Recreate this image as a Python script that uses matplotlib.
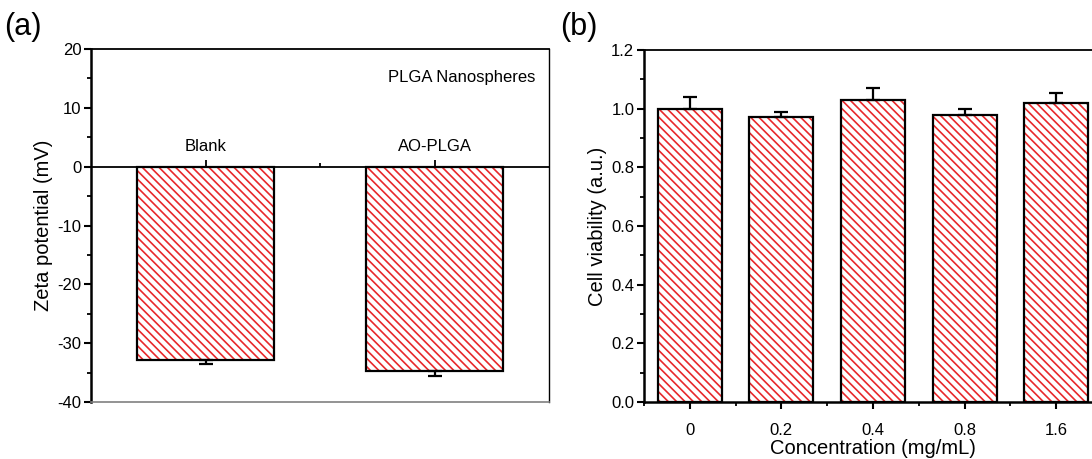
import matplotlib
matplotlib.use("Agg")
import matplotlib.pyplot as plt
from matplotlib.ticker import MultipleLocator, FixedLocator, FormatStrFormatter
import numpy as np

plt.rcParams['font.family'] = ['Liberation Sans', 'DejaVu Sans']
plt.rcParams['hatch.linewidth'] = 1.2
plt.rcParams['axes.unicode_minus'] = False

# ---- data ----
zeta_categories = ["Blank", "AO-PLGA"]
zeta_values = [-32.9, -34.7]
zeta_errors = [0.7, 0.8]

conc_labels = ["0", "0.2", "0.4", "0.8", "1.6"]
viability_values = [1.00, 0.97, 1.03, 0.98, 1.02]
viability_errors = [0.04, 0.02, 0.04, 0.02, 0.035]

RED = "#e8282b"
W, H = 1092, 459
fig = plt.figure(figsize=(W / 100, H / 100), dpi=100)

TICK_FS = 12
LABEL_FS = 14.5

def px_axes(l, t, r, b):
    return fig.add_axes([l / W, 1 - b / H, (r - l) / W, (b - t) / H])

def hatched_bars(ax, x, vals, width, errs, up):
    ax.bar(x, vals, width, color="white", edgecolor=RED, hatch="\\\\\\\\", linewidth=0, zorder=2)
    ax.bar(x, vals, width, fill=False, edgecolor="black", linewidth=1.6, zorder=3)
    zeros = np.zeros(len(vals))
    yerr = [zeros, errs] if up else [errs, zeros]
    ax.errorbar(x, vals, yerr=yerr, fmt="none", ecolor="black",
                elinewidth=1.6, capsize=5, capthick=1.6, zorder=4)

# ---- panel (a) ----
axa = px_axes(91, 49, 549, 402)
xa = np.arange(1, len(zeta_categories) + 1)
hatched_bars(axa, xa, zeta_values, 0.6, zeta_errors, up=False)
axa.set_xlim(0.5, 2.5)
axa.set_ylim(-40, 20)
axa.spines['bottom'].set_position(('data', 0))
axa.spines['bottom'].set_linewidth(1.3)
axa.spines['left'].set_linewidth(1.8)
axa.spines['top'].set_linewidth(1.3)
axa.spines['right'].set_linewidth(1.0)
axa.axhline(-40, color="#808080", lw=1.2, clip_on=False, zorder=5)
axa.xaxis.set_major_locator(FixedLocator(xa))
axa.xaxis.set_minor_locator(FixedLocator([1.5]))
axa.tick_params(axis='x', which='both', direction='in', labelbottom=False, length=5, width=1.3)
axa.tick_params(axis='x', which='minor', length=3)
for xi, name in zip(xa, zeta_categories):
    axa.annotate(name, (xi, 0), xytext=(0, 9), textcoords='offset points',
                 ha='center', va='bottom', fontsize=TICK_FS)
axa.yaxis.set_major_locator(MultipleLocator(10))
axa.yaxis.set_minor_locator(MultipleLocator(5))
axa.tick_params(axis='y', which='major', direction='out', length=5, width=1.5, labelsize=TICK_FS, pad=2)
axa.tick_params(axis='y', which='minor', direction='out', length=3, width=1.3)
axa.set_ylabel("Zeta potential (mV)", fontsize=LABEL_FS, labelpad=3)
axa.text(0.97, 0.92, "PLGA Nanospheres", transform=axa.transAxes, ha='right', va='center', fontsize=TICK_FS)
fig.text(4 / W, 1 - 27 / H, "(a)", fontsize=22, ha='left', va='center')

# ---- panel (b) ----
axb = px_axes(644, 50, 1102, 402)
xb = np.arange(len(conc_labels))
hatched_bars(axb, xb, viability_values, 0.7, viability_errors, up=True)
axb.set_xlim(-0.5, 4.5)
axb.set_ylim(0, 1.2)
axb.spines['right'].set_visible(False)
axb.spines['left'].set_linewidth(1.8)
axb.spines['bottom'].set_linewidth(1.8)
axb.spines['top'].set_linewidth(1.3)
axb.set_xticks(xb)
axb.set_xticklabels(conc_labels)
axb.xaxis.set_minor_locator(FixedLocator(np.arange(-0.5, 4.6, 1.0)))
axb.tick_params(axis='x', which='major', direction='out', length=5, width=1.5, labelsize=TICK_FS, pad=10)
axb.tick_params(axis='x', which='minor', direction='out', length=3, width=1.3)
axb.yaxis.set_major_locator(MultipleLocator(0.2))
axb.yaxis.set_minor_locator(MultipleLocator(0.1))
axb.yaxis.set_major_formatter(FormatStrFormatter('%.1f'))
axb.tick_params(axis='y', which='major', direction='out', length=5, width=1.5, labelsize=TICK_FS, pad=2)
axb.tick_params(axis='y', which='minor', direction='out', length=3, width=1.3)
axb.set_ylabel("Cell viability (a.u.)", fontsize=LABEL_FS, labelpad=3)
axb.set_xlabel("Concentration (mg/mL)", fontsize=LABEL_FS, labelpad=1)
fig.text(560 / W, 1 - 27 / H, "(b)", fontsize=22, ha='left', va='center')

fig.savefig("out.png", dpi=100)
